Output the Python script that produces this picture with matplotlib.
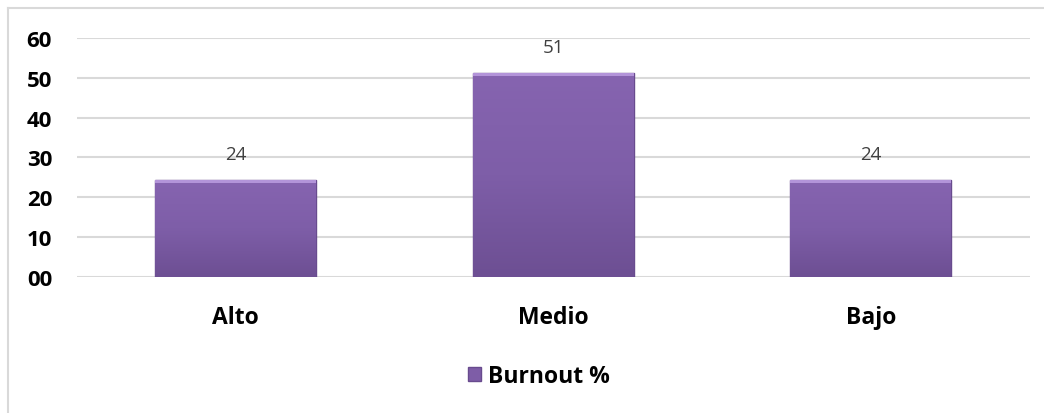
import numpy as np
import matplotlib.pyplot as plt
from matplotlib.lines import Line2D
from matplotlib.patches import Patch
from matplotlib.colors import LinearSegmentedColormap

# data
categories = ['Alto', 'Medio', 'Bajo']
burnout = [24.4, 51.2, 24.4]
yticks = [0, 10, 20, 30, 40, 50, 60]
ytick_labels = ['00', '10', '20', '30', '40', '50', '60']

plt.rcParams['font.family'] = ['Open Sans', 'DejaVu Sans']

fig = plt.figure(figsize=(10.44, 4.14), dpi=100)
ax = fig.add_axes([0.0738, 0.3285, 0.9125, 0.5773])

x = range(len(categories))
bars = ax.bar(x, burnout, width=0.507, color='#7e5da7', edgecolor='#684b8e',
              linewidth=1.0, zorder=3)

# vertical gradient inside each bar (lighter top, darker bottom)
grad = LinearSegmentedColormap.from_list('bar', ['#6d4f93', '#7e5ea8', '#8664b0'])
for b in bars:
    x0, w, h = b.get_x(), b.get_width(), b.get_height()
    im = ax.imshow(np.linspace(0, 1, 100).reshape(-1, 1), cmap=grad, aspect='auto',
                   origin='lower', extent=(x0, x0 + w, 0, h), zorder=3.5)
    im.set_clip_path(b)

# light bevel on top of each bar
ax.bar(x, [0.8] * len(burnout), bottom=[v - 0.8 for v in burnout], width=0.507,
       color='#b394d9', linewidth=0, zorder=4)

for xi, v in zip(x, burnout):
    ax.annotate(f'{v:.0f}', (xi, v), xytext=(0, 12), textcoords='offset points',
                ha='center', va='bottom', fontsize=13.5, color='#404040')

ax.set_xlim(-0.5, 2.5)
ax.set_ylim(0, 60)
ax.set_yticks(yticks)
ax.set_yticklabels(ytick_labels, fontsize=16, fontweight='bold')
ax.set_xticks(list(x))
ax.set_xticklabels(categories, fontsize=16.5, fontweight='bold')
ax.tick_params(axis='both', length=0)
ax.tick_params(axis='y', pad=18)
ax.tick_params(axis='x', pad=20)
ax.yaxis.grid(True, color='#d9d9d9', linewidth=1.5, zorder=0)
ax.set_axisbelow(True)
for s in ax.spines.values():
    s.set_visible(False)

# outer chart frame (top and left visible)
fig.add_artist(Line2D([8 / 1044, 1], [1 - 9 / 414, 1 - 9 / 414],
                      transform=fig.transFigure, color='#d9d9d9', linewidth=1.5))
fig.add_artist(Line2D([8 / 1044, 8 / 1044], [0, 1 - 9 / 414],
                      transform=fig.transFigure, color='#d9d9d9', linewidth=1.5))

fig.legend(handles=[Patch(facecolor='#7e5da7', edgecolor='#684b8e', label='Burnout %')],
           loc='center', bbox_to_anchor=(0.516, 0.089), frameon=False,
           prop={'weight': 'bold', 'size': 16.5}, handlelength=0.55, handleheight=0.55,
           handletextpad=0.3)

fig.savefig('out.png', dpi=100)
